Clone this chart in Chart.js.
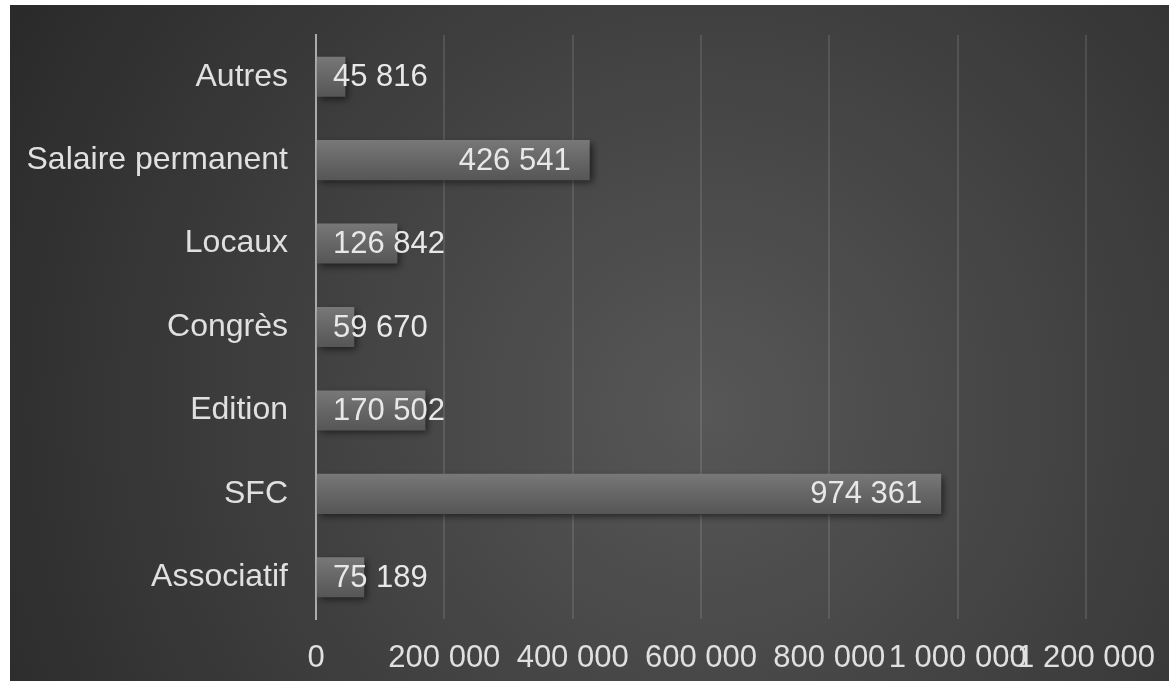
<!DOCTYPE html>
<html>
<head>
<meta charset="utf-8">
<script src="https://cdn.jsdelivr.net/npm/chart.js@4/dist/chart.umd.min.js"></script>
<style>
  html, body { margin: 0; padding: 0; background: #ffffff; }
  #wrap { position: absolute; left: 10px; top: 5px; width: 1159px; height: 676px; }
</style>
</head>
<body>
<div id="wrap"><canvas id="charges"></canvas></div>
<script>
// postes de dépenses (ordre du haut vers le bas)
let categories = ["Autres", "Salaire permanent", "Locaux", "Congrès", "Edition", "SFC", "Associatif"];
let montants = [45816, 426541, 126842, 59670, 170502, 974361, 75189];
let xTicks = [0, 200000, 400000, 600000, 800000, 1000000, 1200000];

const police = "'Liberation Sans', Arial, sans-serif";

function formatNombre(v) {
  return String(Math.round(v)).replace(/\B(?=(\d{3})+(?!\d))/g, " ");
}

// fond sombre en dégradé radial
const fondPlugin = {
  id: "fond",
  beforeDraw(chart) {
    const ctx = chart.ctx;
    const w = chart.width, h = chart.height;
    const g = ctx.createRadialGradient(w * 0.6, h * 0.6, 0, w * 0.6, h * 0.6, w * 0.75);
    g.addColorStop(0, "#575757");
    g.addColorStop(1, "#262626");
    ctx.save();
    ctx.fillStyle = g;
    ctx.fillRect(0, 0, w, h);
    ctx.restore();
  }
};

// ombre portée sous les barres
const ombrePlugin = {
  id: "ombre",
  beforeDatasetsDraw(chart) {
    const ctx = chart.ctx;
    ctx.save();
    ctx.shadowColor = "rgba(0,0,0,0.55)";
    ctx.shadowBlur = 7;
    ctx.shadowOffsetX = 3;
    ctx.shadowOffsetY = 3;
  },
  afterDatasetsDraw(chart) {
    chart.ctx.restore();
  }
};

// étiquettes de valeur
const etiquettesPlugin = {
  id: "etiquettes",
  afterDatasetsDraw(chart) {
    const ctx = chart.ctx;
    const meta = chart.getDatasetMeta(0);
    ctx.save();
    ctx.font = "31px " + police;
    ctx.fillStyle = "#e8e8e8";
    ctx.textBaseline = "middle";
    ctx.textAlign = "left";
    meta.data.forEach((bar, i) => {
      const txt = formatNombre(montants[i]);
      const tw = ctx.measureText(txt).width;
      let x = bar.x - 19 - tw;
      if (x < bar.base + 16) x = bar.base + 16;
      ctx.fillText(txt, x, bar.y + 1);
    });
    ctx.restore();
  }
};

new Chart("charges", {
  type: "bar",
  data: {
    labels: categories,
    datasets: [{
      data: montants,
      backgroundColor: function(context) {
        const chart = context.chart;
        const y = chart.scales.y;
        if (!y || y.bottom === undefined) return "#646464";
        const band = (y.bottom - y.top) / categories.length;
        const c = y.getPixelForValue(context.dataIndex);
        const half = band * 0.48 / 2;
        if (!isFinite(c)) return "#646464";
        const g = chart.ctx.createLinearGradient(0, c - half, 0, c + half);
        g.addColorStop(0, "#787878");
        g.addColorStop(0.5, "#666666");
        g.addColorStop(1, "#565656");
        return g;
      },
      borderWidth: 0,
      categoryPercentage: 1,
      barPercentage: 0.48
    }]
  },
  options: {
    indexAxis: "y",
    responsive: true,
    maintainAspectRatio: false,
    animation: false,
    layout: { padding: { top: 30, right: 83, bottom: 0, left: 0 } },
    plugins: {
      legend: { display: false },
      tooltip: { enabled: false }
    },
    scales: {
      x: {
        min: 0,
        max: 1200000,
        afterBuildTicks: function(scale) {
          scale.ticks = xTicks.map(v => ({ value: v }));
        },
        afterFit: function(scale) {
          scale.height = 62;
          scale.paddingLeft = 0;
          scale.paddingRight = 0;
        },
        grid: { color: "rgba(255,255,255,0.11)", lineWidth: 2, drawTicks: false },
        border: { display: false },
        ticks: {
          autoSkip: false,
          maxRotation: 0,
          padding: 21,
          color: "#e0e0e0",
          font: { family: police, size: 31 },
          callback: v => formatNombre(v)
        }
      },
      y: {
        afterFit: function(scale) {
          scale.width = 306;
          scale.paddingTop = 0;
          scale.paddingBottom = 0;
        },
        grid: { display: false, drawTicks: false },
        border: { display: true, color: "#ababab", width: 2 },
        ticks: {
          padding: 28,
          color: "#e0e0e0",
          font: { family: police, size: 32 }
        }
      }
    }
  },
  plugins: [fondPlugin, ombrePlugin, etiquettesPlugin]
});
</script>
</body>
</html>
